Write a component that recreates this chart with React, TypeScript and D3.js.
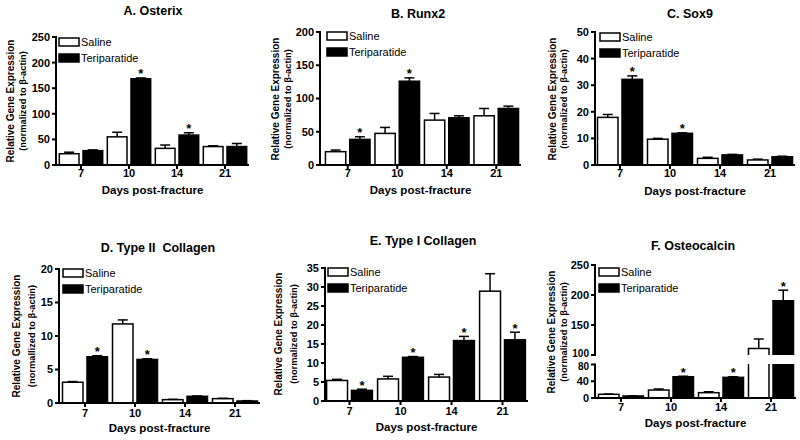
import React from "react";
import * as d3 from "d3";

const FONT = "'Liberation Sans', Arial, Helvetica, sans-serif";

// ---------- DATA ----------
const days = ["7", "10", "14", "21"];

const osterixSaline = [22, 55, 32.5, 36];
const osterixSalineSem = [3, 9, 6.5, 1.5];
const osterixTeri = [28, 168.5, 58.5, 36];
const osterixTeriSem = [1.5, 1.5, 4.5, 6];
const osterixStars = [false, true, true, false];
const osterixTicks = [0, 50, 100, 150, 200, 250];

const runx2Saline = [20, 47.5, 67.5, 74];
const runx2SalineSem = [2.5, 9, 10, 11];
const runx2Teri = [38.5, 126, 71, 85];
const runx2TeriSem = [4, 5, 3, 3.5];
const runx2Stars = [true, true, false, false];
const runx2Ticks = [0, 50, 100, 150, 200];

const sox9Saline = [17.9, 9.7, 2.5, 1.9];
const sox9SalineSem = [1.1, 0.3, 0.4, 0.3];
const sox9Teri = [32.2, 11.9, 3.8, 3.1];
const sox9TeriSem = [1.3, 0.2, 0.2, 0.2];
const sox9Stars = [true, true, false, false];
const sox9Ticks = [0, 10, 20, 30, 40, 50];

const col2Saline = [3.1, 11.8, 0.5, 0.65];
const col2SalineSem = [0.1, 0.6, 0.05, 0.05];
const col2Teri = [6.9, 6.5, 1.0, 0.3];
const col2TeriSem = [0.15, 0.1, 0.05, 0.05];
const col2Stars = [true, true, false, false];
const col2Ticks = [0, 5, 10, 15, 20];

const col1Saline = [5.4, 5.8, 6.3, 28.9];
const col1SalineSem = [0.3, 0.7, 0.7, 4.6];
const col1Teri = [2.8, 11.5, 15.9, 16.1];
const col1TeriSem = [0.3, 0.2, 1.1, 2.0];
const col1Stars = [true, true, true, true];
const col1Ticks = [0, 5, 10, 15, 20, 25, 30, 35];

const ocnSaline = [8.8, 19, 12.7, 111];
const ocnSalineSem = [0.7, 2.5, 2.3, 15.7];
const ocnTeri = [4.8, 50.8, 49.3, 190.5];
const ocnTeriSem = [0.3, 1.2, 1.5, 17.5];
const ocnStars = [false, true, true, true];
const ocnTicksLow = [0, 40, 80];
const ocnTicksHigh = [100, 150, 200, 250];

const legendLabels = ["Saline", "Teriparatide"];
const yLabel1 = "Relative Gene Expression";
const xTitle = "Days post-fracture";

type Panel = {
  title: string;
  ylab2: string;
  saline: number[];
  salineSem: number[];
  teri: number[];
  teriSem: number[];
  stars: boolean[];
  ticks: number[];
  ticksHigh?: number[];
  axisX: number;
  xRange: [number, number];
  yBase: number;
  yTop: number;
  broken?: boolean;
  legend: [number, number];
  titlePos: [number, number];
  ylab: [number, number, number];
  tickY: number;
  xTitleY: number;
};

const panels: Panel[] = [
  {
    title: "A. Osterix", ylab2: "(normalized to β-actin)",
    saline: osterixSaline, salineSem: osterixSalineSem, teri: osterixTeri, teriSem: osterixTeriSem,
    stars: osterixStars, ticks: osterixTicks,
    axisX: 56, xRange: [57, 249], yBase: 165, yTop: 37,
    legend: [59, 38], titlePos: [153, 15], ylab: [10, 23, 101], tickY: 177, xTitleY: 194,
  },
  {
    title: "B. Runx2", ylab2: "(normalized to β-actin)",
    saline: runx2Saline, salineSem: runx2SalineSem, teri: runx2Teri, teriSem: runx2TeriSem,
    stars: runx2Stars, ticks: runx2Ticks,
    axisX: 320, xRange: [323, 521], yBase: 165, yTop: 32,
    legend: [327, 32], titlePos: [418, 18], ylab: [275, 288, 99], tickY: 177, xTitleY: 194,
  },
  {
    title: "C. Sox9", ylab2: "(normalized to β-actin)",
    saline: sox9Saline, salineSem: sox9SalineSem, teri: sox9Teri, teriSem: sox9TeriSem,
    stars: sox9Stars, ticks: sox9Ticks,
    axisX: 595, xRange: [595, 795], yBase: 165, yTop: 32,
    legend: [600, 33], titlePos: [690, 18], ylab: [552, 564, 99], tickY: 177, xTitleY: 195,
  },
  {
    title: "D. Type II  Collagen", ylab2: "(normallized to β-actin)",
    saline: col2Saline, salineSem: col2SalineSem, teri: col2Teri, teriSem: col2TeriSem,
    stars: col2Stars, ticks: col2Ticks,
    axisX: 59, xRange: [60, 260], yBase: 403, yTop: 269,
    legend: [63, 269], titlePos: [158, 252], ylab: [16, 32, 336], tickY: 417, xTitleY: 432,
  },
  {
    title: "E. Type I Collagen", ylab2: "(normalized to β-actin)",
    saline: col1Saline, salineSem: col1SalineSem, teri: col1Teri, teriSem: col1TeriSem,
    stars: col1Stars, ticks: col1Ticks,
    axisX: 325, xRange: [324, 528], yBase: 401, yTop: 268,
    legend: [328, 268], titlePos: [423, 245], ylab: [278, 294, 334], tickY: 415, xTitleY: 431,
  },
  {
    title: "F. Osteocalcin", ylab2: "(normalized to β-actin)",
    saline: ocnSaline, salineSem: ocnSalineSem, teri: ocnTeri, teriSem: ocnTeriSem,
    stars: ocnStars, ticks: ocnTicksLow, ticksHigh: ocnTicksHigh, broken: true,
    axisX: 595, xRange: [596, 796], yBase: 398, yTop: 265,
    legend: [599, 268], titlePos: [693, 250], ylab: [551, 564, 332], tickY: 411, xTitleY: 427,
  },
];

function PanelView({ p }: { p: Panel }) {
  const x = d3.scaleBand<string>().domain(days).range(p.xRange).padding(0);
  const step = x.bandwidth();
  const bw = step * 0.41;
  const gap = 2;

  let y: (v: number) => number;
  let low: d3.ScaleLinear<number, number> | null = null;
  let high: d3.ScaleLinear<number, number> | null = null;
  if (p.broken) {
    low = d3.scaleLinear().domain([0, 80]).range([p.yBase, 364.5]);
    high = d3.scaleLinear().domain([100, 250]).range([355, p.yTop]);
    y = (v: number) => (v <= 80 ? low!(v) : high!(v));
  } else {
    const maxT = p.ticks[p.ticks.length - 1];
    const s = d3.scaleLinear().domain([0, maxT]).range([p.yBase, p.yTop]);
    y = (v: number) => s(v);
  }

  const allTicks = p.ticksHigh ? [...p.ticks, ...p.ticksHigh] : p.ticks;
  const xEnd = p.xRange[1];
  const xMid = (p.axisX + xEnd) / 2;

  // label offsets near the axis break so the two labels don't collide
  const labelShift = (t: number) => {
    if (!p.broken) return 0;
    if (t === 100) return -1.5;
    if (t === 80) return 1.5;
    return 0;
  };
  const labelSize = (t: number) => (p.broken && (t === 100 || t === 80) ? 10 : 11);

  const bars: React.ReactNode[] = [];
  days.forEach((d, i) => {
    const c = (x(d) as number) + step / 2;
    const series = [
      { v: p.saline[i], e: p.salineSem[i], fill: "#fff", x0: c - gap - bw, star: false },
      { v: p.teri[i], e: p.teriSem[i], fill: "#000", x0: c + gap, star: p.stars[i] },
    ];
    series.forEach((s, k) => {
      const key = `${d}-${k}`;
      const xc = s.x0 + bw / 2;
      if (p.broken && s.v > 100 && low && high) {
        const yLowTop = low(80) - 0.5;
        bars.push(
          <g key={key + "b"}>
            <rect x={s.x0} y={yLowTop} width={bw} height={p.yBase - yLowTop} fill={s.fill} />
            <line x1={s.x0} x2={s.x0} y1={yLowTop} y2={p.yBase} stroke="#000" strokeWidth={1.5} />
            <line x1={s.x0 + bw} x2={s.x0 + bw} y1={yLowTop} y2={p.yBase} stroke="#000" strokeWidth={1.5} />
            <rect x={s.x0} y={high(s.v)} width={bw} height={high(100) - high(s.v)} fill={s.fill} />
            <path
              d={`M${s.x0},${high(100)}V${high(s.v)}H${s.x0 + bw}V${high(100)}`}
              fill="none" stroke="#000" strokeWidth={1.5}
            />
          </g>
        );
      } else {
        bars.push(
          <rect key={key + "b"} x={s.x0} y={y(s.v)} width={bw} height={p.yBase - y(s.v)}
            fill={s.fill} stroke="#000" strokeWidth={1.5} />
        );
      }
      const yt = y(s.v + s.e);
      bars.push(
        <g key={key + "e"} stroke="#000" strokeWidth={1.5}>
          <line x1={xc} x2={xc} y1={y(s.v)} y2={yt} />
          <line x1={xc - 5} x2={xc + 5} y1={yt} y2={yt} />
        </g>
      );
      if (s.star) {
        bars.push(
          <text key={key + "s"} x={xc} y={yt + 0.5} textAnchor="middle" fontSize={13}
            fontWeight="bold" fontFamily={FONT}>*</text>
        );
      }
    });
  });

  return (
    <g>
      <text x={p.titlePos[0]} y={p.titlePos[1]} textAnchor="middle" fontSize={12.5}
        fontWeight="bold" fontFamily={FONT} style={{ whiteSpace: "pre" }}>{p.title}</text>
      {/* y label */}
      <text transform={`translate(${p.ylab[0]},${p.ylab[2]}) rotate(-90)`} textAnchor="middle"
        dy="0.35em" fontSize={10} fontWeight="bold" fontFamily={FONT}>{yLabel1}</text>
      <text transform={`translate(${p.ylab[1]},${p.ylab[2]}) rotate(-90)`} textAnchor="middle"
        dy="0.35em" fontSize={9.3} fontWeight="bold" fontFamily={FONT}>{p.ylab2}</text>

      {bars}

      {/* y axis */}
      {p.broken && low && high ? (
        <g stroke="#000" strokeWidth={2}>
          <line x1={p.axisX} x2={p.axisX} y1={p.yBase + 1} y2={low(80) - 1} />
          <line x1={p.axisX} x2={p.axisX} y1={high(100) + 1} y2={high(250) - 1} />
        </g>
      ) : (
        <line x1={p.axisX} x2={p.axisX} y1={p.yBase + 1} y2={p.yTop - 1} stroke="#000" strokeWidth={2} />
      )}
      {allTicks.map((t) => (
        <g key={"t" + t}>
          <line x1={p.axisX - 4} x2={p.axisX} y1={y(t)} y2={y(t)} stroke="#000" strokeWidth={2} />
          <text x={p.axisX - 6} y={y(t) + labelShift(t)} dy="0.36em" textAnchor="end"
            fontSize={labelSize(t)} fontWeight="bold" fontFamily={FONT}>{t}</text>
        </g>
      ))}

      {/* x axis */}
      <line x1={p.axisX - 1} x2={xEnd} y1={p.yBase} y2={p.yBase} stroke="#000" strokeWidth={2} />
      {days.map((d) => {
        const c = (x(d) as number) + step / 2;
        return (
          <g key={"x" + d}>
            <line x1={c} x2={c} y1={p.yBase} y2={p.yBase + 4} stroke="#000" strokeWidth={2} />
            <text x={c} y={p.tickY} textAnchor="middle" fontSize={11} fontWeight="bold"
              fontFamily={FONT}>{d}</text>
          </g>
        );
      })}
      <text x={xMid} y={p.xTitleY} textAnchor="middle" fontSize={11.5} fontWeight="bold"
        fontFamily={FONT}>{xTitle}</text>

      {/* legend */}
      {legendLabels.map((lab, i) => (
        <g key={lab}>
          <rect x={p.legend[0]} y={p.legend[1] + i * 16} width={20} height={8}
            fill={i === 0 ? "#fff" : "#000"} stroke="#000" strokeWidth={1.5} />
          <text x={p.legend[0] + 22} y={p.legend[1] + i * 16 + 4} dy="0.36em" fontSize={11}
            fontFamily={FONT}>{lab}</text>
        </g>
      ))}
    </g>
  );
}

export default function App() {
  return (
    <svg width={800} height={440} style={{ position: "absolute", left: 0, top: 0, background: "#fff" }}>
      <rect width={800} height={440} fill="#fff" />
      {panels.map((p) => (
        <PanelView key={p.title} p={p} />
      ))}
    </svg>
  );
}
